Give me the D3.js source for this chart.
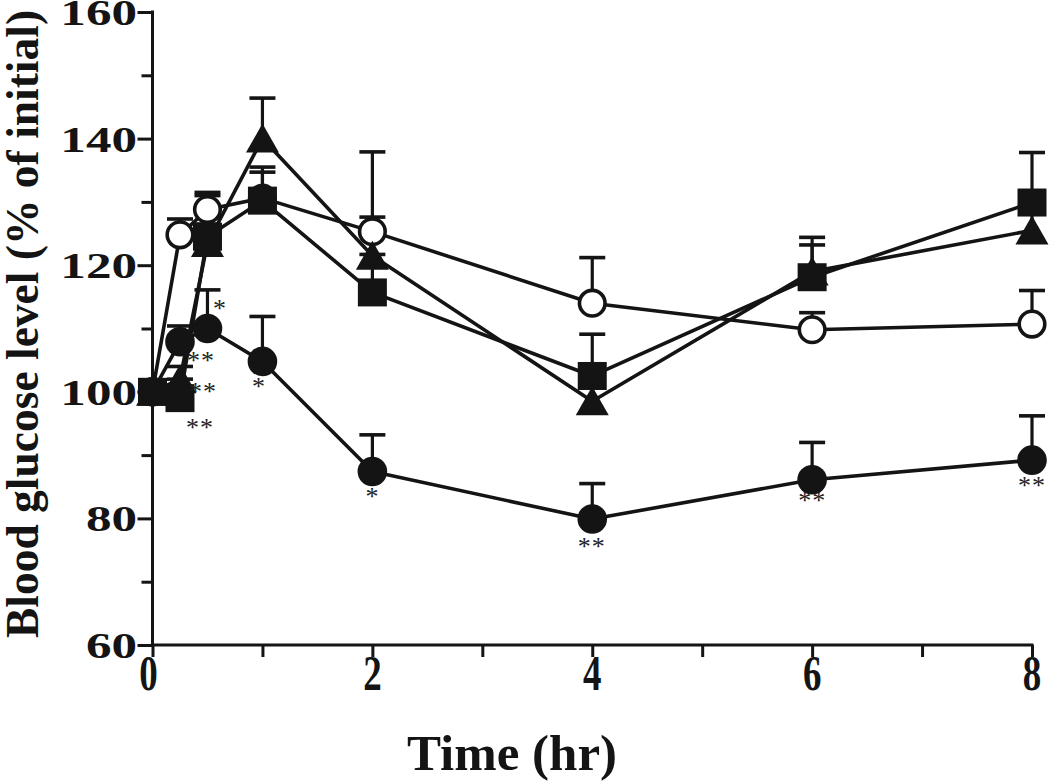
<!DOCTYPE html>
<html><head><meta charset="utf-8">
<script src="https://cdn.jsdelivr.net/npm/d3@7"></script>
<style>body{margin:0;background:#fff}svg{display:block}</style>
</head><body>
<svg id="c" width="1050" height="783"></svg>
<script>
// ---------- data ----------
const times = [0, 0.25, 0.5, 1, 2, 4, 6, 8];

const openCircle      = [100, 124.8, 128.8, 130.6, 125.3, 114.0, 109.8, 110.7];
const openCircleSem   = [0,   2.5,   2.7,   4.1,   12.6,  7.2,   2.7,   5.3];
const filledCircle    = [100, 107.9, 110.0, 104.8, 87.4,  79.9,  86.1,  89.2];
const filledCircleSem = [0,   2.5,   6.1,   7.1,   5.8,   5.6,   5.9,   7.0];
const triangle        = [100, 102.0, 123.5, 140.0, 121.5, 98.5,  119.0, 125.5];
const triangleSem     = [0,   2.0,   3.0,   6.4,   6.1,   4.0,   4.2,   4.5];
const square          = [100, 99.0,  124.5, 130.2, 115.7, 102.5, 118.1, 129.9];
const squareSem       = [0,   3.0,   6.5,   5.3,   6.0,   6.6,   6.3,   7.9];

const yMajorTicks = [60, 80, 100, 120, 140, 160];
const yMinorTicks = [70, 90, 110, 130, 150];
const yTickLabels = ["60", "80", "100", "120", "140", "160"];
const xTicks      = [0, 1, 2, 3, 4, 5, 6, 7, 8];
const xLabelTicks = [0, 2, 4, 6, 8];
const xTickLabels = ["0", "2", "4", "6", "8"];

// significance marks (text, time, level)
const sigText = ["*", "**", "**", "**", "*", "*", "**", "**", "**"];
const sigTime = [0.614, 0.441, 0.459, 0.432, 0.968, 2.0, 3.995, 6.0, 8.0];
const sigLevel = [113.7, 105.5, 100.6, 94.9, 101.4, 84.0, 76.1, 83.4, 85.8];

const xTitle = "Time (hr)";
const yTitle = "Blood glucose level (% of initial)";

// ---------- drawing ----------
const ink = "#141414";
const serif = "'Liberation Serif','Times New Roman',serif";
const svg = d3.select("#c");
const x = d3.scaleLinear().domain([0, 8]).range([152.5, 1032]);
const y = d3.scaleLinear().domain([60, 160]).range([645, 12]);

function styleAxis(g) {
  g.select(".domain").remove();
  g.selectAll(".tick line").attr("stroke", ink).attr("stroke-width", 3);
  g.selectAll(".tick text").remove();
}

// axis lines
svg.append("line").attr("x1", x(0)).attr("x2", x(0)).attr("y1", y(160) - 1.5).attr("y2", y(60))
  .attr("stroke", ink).attr("stroke-width", 3);
svg.append("line").attr("x1", x(0)).attr("x2", x(8) + 1.5).attr("y1", y(60)).attr("y2", y(60))
  .attr("stroke", ink).attr("stroke-width", 3);

svg.append("g").attr("transform", `translate(${x(0)},0)`)
  .call(d3.axisLeft(y).tickValues(yMajorTicks).tickSize(15)).call(styleAxis);
svg.append("g").attr("transform", `translate(${x(0)},0)`)
  .call(d3.axisLeft(y).tickValues(yMinorTicks).tickSize(11)).call(styleAxis);
svg.append("g").attr("transform", `translate(0,${y(60)})`)
  .call(d3.axisBottom(x).tickValues(xTicks).tickSize(12)).call(styleAxis);

// tick labels
svg.append("g").selectAll("text").data(yMajorTicks).join("text")
  .attr("transform", d => `translate(137,${y(d) + 13}) scale(1.42,1)`)
  .attr("text-anchor", "end")
  .attr("font-family", serif).attr("font-weight", "bold").attr("font-size", 36)
  .attr("fill", ink)
  .text((d, i) => yTickLabels[i]);

svg.append("g").selectAll("text").data(xLabelTicks).join("text")
  .attr("transform", d => `translate(${x(d) - (d === 0 ? 4 : 0)},690) scale(0.74,1)`)
  .attr("text-anchor", "middle")
  .attr("font-family", serif).attr("font-weight", "bold").attr("font-size", 50)
  .attr("fill", ink)
  .text((d, i) => xTickLabels[i]);

// titles
svg.append("text").attr("x", 512).attr("y", 770).attr("text-anchor", "middle")
  .attr("font-family", serif).attr("font-weight", "bold").attr("font-size", 51)
  .attr("fill", ink).text(xTitle);
svg.append("text").attr("transform", "translate(38,324) rotate(-90)").attr("text-anchor", "middle")
  .attr("font-family", serif).attr("font-weight", "bold").attr("font-size", 45.5)
  .attr("fill", ink).text(yTitle);

// series
const series = [
  { vals: openCircle, sem: openCircleSem, shape: "openCircle" },
  { vals: filledCircle, sem: filledCircleSem, shape: "filledCircle" },
  { vals: triangle, sem: triangleSem, shape: "triangle" },
  { vals: square, sem: squareSem, shape: "square" }
];

const line = d3.line().x(d => x(d[0])).y(d => y(d[1]));
const gLines = svg.append("g");
const gErr = svg.append("g");
const gMarks = svg.append("g");

series.forEach(s => {
  const pts = times.map((t, i) => [t, s.vals[i], s.sem[i]]);
  gLines.append("path").attr("d", line(pts)).attr("fill", "none")
    .attr("stroke", ink).attr("stroke-width", 3.6).attr("stroke-linejoin", "round");
  pts.filter(p => p[2] > 0).forEach(p => {
    const cx = x(p[0]), top = y(p[1] + p[2]);
    gErr.append("line").attr("x1", cx).attr("x2", cx).attr("y1", y(p[1])).attr("y2", top)
      .attr("stroke", ink).attr("stroke-width", 3.2);
    gErr.append("line").attr("x1", cx - 13).attr("x2", cx + 13).attr("y1", top).attr("y2", top)
      .attr("stroke", ink).attr("stroke-width", 3.6);
  });
});

series.forEach(s => {
  times.forEach((t, i) => {
    const cx = x(t), cy = y(s.vals[i]);
    if (s.shape === "openCircle") {
      gMarks.append("circle").attr("cx", cx).attr("cy", cy).attr("r", 12.8)
        .attr("fill", "#fff").attr("stroke", ink).attr("stroke-width", 3.6);
    } else if (s.shape === "filledCircle") {
      gMarks.append("circle").attr("cx", cx).attr("cy", cy).attr("r", 14.8).attr("fill", ink);
    } else if (s.shape === "triangle") {
      gMarks.append("path")
        .attr("d", `M${cx},${cy - 15}L${cx + 16.5},${cy + 14}L${cx - 16.5},${cy + 14}Z`)
        .attr("fill", ink);
    } else {
      gMarks.append("rect").attr("x", cx - 14.5).attr("y", cy - 14).attr("width", 29).attr("height", 28)
        .attr("fill", ink);
    }
  });
});

// significance marks
svg.append("g").selectAll("text").data(sigText).join("text")
  .attr("x", (d, i) => x(sigTime[i])).attr("y", (d, i) => y(sigLevel[i]) + 12)
  .attr("text-anchor", "middle")
  .attr("font-family", serif).attr("font-size", 26).attr("fill", "#222")
  .attr("letter-spacing", 1)
  .text(d => d);
</script>
</body></html>
